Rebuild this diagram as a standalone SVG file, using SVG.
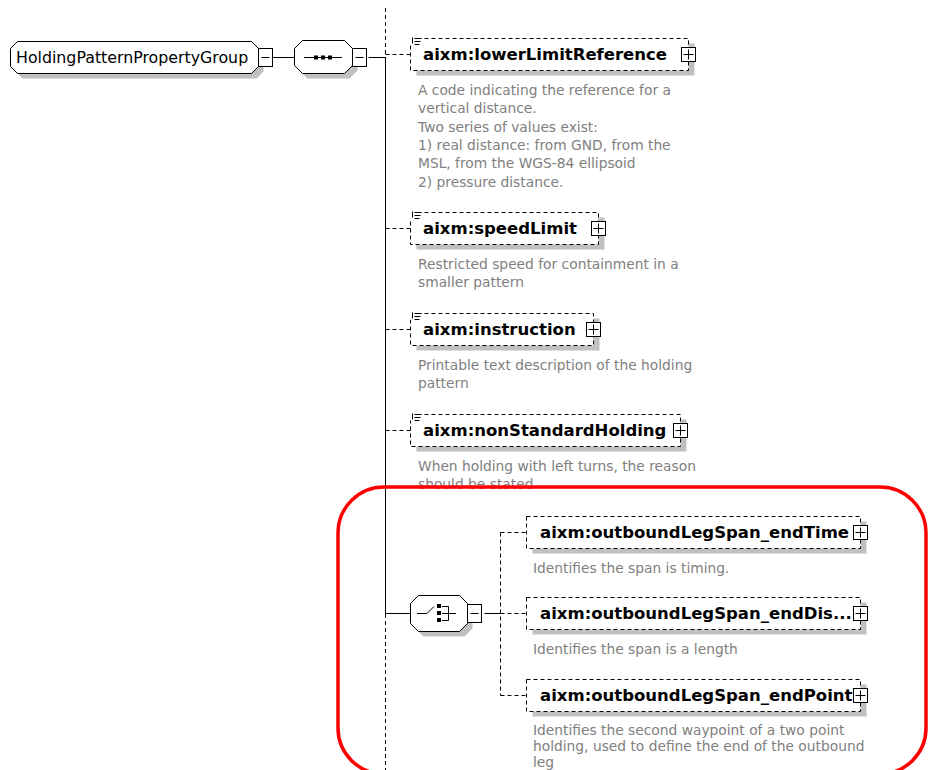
<svg xmlns="http://www.w3.org/2000/svg" width="928" height="770" viewBox="0 0 928 770">
  <style>
    .ln{fill:none;stroke:#000;stroke-width:1}
    .dash{fill:none;stroke:#000;stroke-width:1;stroke-dasharray:4 3}
    .shadow{fill:#c0c0c0}
    .box{fill:#fff;stroke:#000;stroke-width:1}
    .ebox{fill:#fff;stroke:#000;stroke-width:1;stroke-dasharray:4 3}
    .name{font-family:"DejaVu Sans","Liberation Sans",sans-serif;font-weight:bold;font-size:16.5px;fill:#000}
    .doc{font-family:"DejaVu Sans","Liberation Sans",sans-serif;font-size:13.8px;fill:#808080}
    .rootname{font-family:"DejaVu Sans","Liberation Sans",sans-serif;font-size:15.8px;fill:#000}
    .highlight{fill:none;stroke:#f00;stroke-width:3.5}
  </style>
  <defs>
    <!-- expand (+) button -->
    <g id="plus">
      <rect class="box" x="-7" y="-7" width="14" height="14"/>
      <path class="ln" d="M-5,0H5M0,-5V5"/>
    </g>
    <!-- collapse (-) button -->
    <g id="minus">
      <rect class="box" x="0" y="-9" width="14" height="18"/>
      <path class="ln" d="M3,0H11"/>
    </g>
    <!-- documentation marker at the element's top-left corner -->
    <g id="docicon">
      <rect x="-1" y="-3" width="12" height="9" fill="#fff"/>
      <path class="ln" d="M2,-1V5M4,0H11M4,3H10M4,6H9"/>
    </g>
  </defs>

  <rect width="928" height="770" fill="#fff"/>

  <!-- connectors -->
  <g id="connectors">
    <path class="ln" d="M272.5,57.5H294.5M368.5,57.5H385.5"/>
    <path class="ln" d="M385.5,57V613.5H410.5"/>
    <path class="dash" d="M385.5,8V57M385.5,614V770"/>
    <path class="dash" d="M385.5,54.5H410.5M385.5,228.5H410.5M385.5,329.5H410.5M385.5,430.5H410.5"/>
    <path class="ln" d="M484.5,613.5H500.5"/>
    <path class="dash" d="M500.5,532.5V695.5M500.5,532.5H526.5M500.5,613.5H526.5M500.5,695.5H526.5"/>
  </g>

  <!-- root group -->
  <g id="HoldingPatternPropertyGroup">
    <path class="shadow" d="M22.5,46.5H256.5L263.5,53.5V71.5L256.5,78.5H22.5L15.5,71.5V53.5Z"/>
    <path class="box" d="M17.5,41.5H251.5L258.5,48.5V66.5L251.5,73.5H17.5L10.5,66.5V48.5Z"/>
    <text class="rootname" x="16" y="63">HoldingPatternPropertyGroup</text>
    <use href="#minus" x="258.5" y="57.5"/>
  </g>

  <!-- sequence compositor -->
  <g id="sequence">
    <path class="shadow" d="M307.5,45.5H349.5L357.5,53.5V70.5L349.5,78.5H307.5L299.5,70.5V53.5Z"/>
    <path class="box" d="M302.5,40.5H344.5L352.5,48.5V65.5L344.5,73.5H302.5L294.5,65.5V48.5Z"/>
    <path class="ln" d="M304,57.5H342"/>
    <rect x="314" y="55.5" width="4" height="4"/>
    <rect x="321" y="55.5" width="4" height="4"/>
    <rect x="328" y="55.5" width="4" height="4"/>
    <use href="#minus" x="352.5" y="57.5"/>
  </g>

  <g id="lowerLimitReference">
    <rect class="shadow" x="416.5" y="43.5" width="278" height="32"/>
    <rect class="ebox" x="410.5" y="38.5" width="278" height="32"/>
    <use href="#docicon" x="410.5" y="38.5"/>
    <text class="name" x="423" y="60">aixm:lowerLimitReference</text>
    <use href="#plus" x="688.5" y="54.5"/>
    <text class="doc" x="418" y="95">A code indicating the reference for a</text>
    <text class="doc" x="418" y="113">vertical distance.</text>
    <text class="doc" x="418" y="132">Two series of values exist:</text>
    <text class="doc" x="418" y="150">1) real distance: from GND, from the</text>
    <text class="doc" x="418" y="168">MSL, from the WGS-84 ellipsoid</text>
    <text class="doc" x="418" y="187">2) pressure distance.</text>
  </g>

  <g id="speedLimit">
    <rect class="shadow" x="416.5" y="217.5" width="188" height="32"/>
    <rect class="ebox" x="410.5" y="212.5" width="188" height="32"/>
    <use href="#docicon" x="410.5" y="212.5"/>
    <text class="name" x="423" y="234">aixm:speedLimit</text>
    <use href="#plus" x="598.5" y="228.5"/>
    <text class="doc" x="418" y="269">Restricted speed for containment in a</text>
    <text class="doc" x="418" y="287">smaller pattern</text>
  </g>

  <g id="instruction">
    <rect class="shadow" x="416.5" y="318.5" width="183" height="32"/>
    <rect class="ebox" x="410.5" y="313.5" width="183" height="32"/>
    <use href="#docicon" x="410.5" y="313.5"/>
    <text class="name" x="423" y="335">aixm:instruction</text>
    <use href="#plus" x="593.5" y="329.5"/>
    <text class="doc" x="418" y="370">Printable text description of the holding</text>
    <text class="doc" x="418" y="388">pattern</text>
  </g>

  <g id="nonStandardHolding">
    <rect class="shadow" x="416.5" y="419.5" width="270" height="32"/>
    <rect class="ebox" x="410.5" y="414.5" width="270" height="32"/>
    <use href="#docicon" x="410.5" y="414.5"/>
    <text class="name" x="423" y="436">aixm:nonStandardHolding</text>
    <use href="#plus" x="680.5" y="430.5"/>
    <text class="doc" x="418" y="471">When holding with left turns, the reason</text>
    <text class="doc" x="418" y="489">should be stated</text>
  </g>

  <!-- choice compositor -->
  <g id="choice">
    <path class="shadow" d="M423.5,600.5H464.5L472.5,608.5V628.5L464.5,636.5H423.5L415.5,628.5V608.5Z"/>
    <path class="box" d="M418.5,595.5H459.5L467.5,603.5V623.5L459.5,631.5H418.5L410.5,623.5V603.5Z"/>
    <path class="ln" d="M417,613.5H427L434,606.5M442,606.5H448.5V620.5H442M442,613.5H456"/>
    <rect x="437" y="604" width="4" height="4"/>
    <rect x="437" y="611" width="4" height="4"/>
    <rect x="437" y="618" width="4" height="4"/>
    <use href="#minus" x="467.5" y="613.5"/>
  </g>

  <g id="outboundLegSpan_endTime">
    <rect class="shadow" x="532.5" y="521.5" width="334" height="32"/>
    <rect class="ebox" x="526.5" y="516.5" width="334" height="32"/>
    <text class="name" x="540" y="538">aixm:outboundLegSpan_endTime</text>
    <use href="#plus" x="860.5" y="532.5"/>
    <text class="doc" x="533" y="573">Identifies the span is timing.</text>
  </g>

  <g id="outboundLegSpan_endDistance">
    <rect class="shadow" x="532.5" y="602.5" width="334" height="32"/>
    <rect class="ebox" x="526.5" y="597.5" width="334" height="32"/>
    <text class="name" x="540" y="619">aixm:outboundLegSpan_endDis...</text>
    <use href="#plus" x="860.5" y="613.5"/>
    <text class="doc" x="533" y="654">Identifies the span is a length</text>
  </g>

  <g id="outboundLegSpan_endPoint">
    <rect class="shadow" x="532.5" y="684.5" width="334" height="32"/>
    <rect class="ebox" x="526.5" y="679.5" width="334" height="32"/>
    <text class="name" x="540" y="701">aixm:outboundLegSpan_endPoint</text>
    <use href="#plus" x="860.5" y="695.5"/>
    <text class="doc" x="533" y="735">Identifies the second waypoint of a two point</text>
    <text class="doc" x="533" y="751">holding, used to define the end of the outbound</text>
    <text class="doc" x="533" y="766.5">leg</text>
  </g>

  <!-- red highlight frame around the choice block -->
  <rect class="highlight" x="338" y="487" width="588" height="287" rx="46" ry="46"/>
</svg>
